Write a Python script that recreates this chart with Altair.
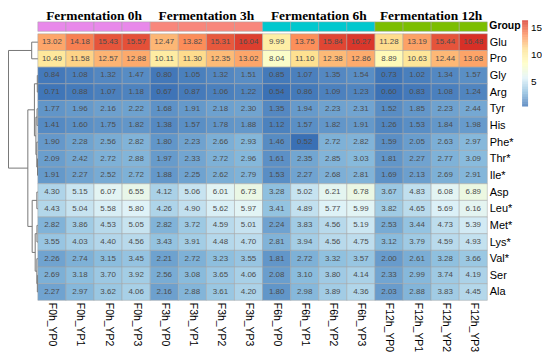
import altair as alt
import numpy as np
import pandas as pd

columns = ["F0h_YP0", "F0h_YP1", "F0h_YP2", "F0h_YP3",
           "F3h_YP0", "F3h_YP1", "F3h_YP2", "F3h_YP3",
           "F6h_YP0", "F6h_YP1", "F6h_YP2", "F6h_YP3",
           "F12h_YP0", "F12h_YP1", "F12h_YP2", "F12h_YP3"]
groups = ["Fermentation 0h", "Fermentation 3h", "Fermentation 6h", "Fermentation 12h"]
group_colors = ["#E889EA", "#F8877C", "#00C8CE", "#7CBE00"]
rows = ["Glu", "Pro", "Gly", "Arg", "Tyr", "His", "Phe*", "Thr*", "Ile*",
        "Asp", "Leu*", "Met*", "Lys*", "Val*", "Ser", "Ala"]

glu = [13.02, 14.18, 15.43, 15.57, 12.47, 13.82, 15.31, 16.04, 9.99, 13.75, 15.84, 16.27, 11.28, 13.19, 15.44, 16.48]
pro = [10.49, 11.58, 12.57, 12.88, 10.11, 11.30, 12.35, 13.02, 8.04, 11.10, 12.38, 12.86, 8.89, 10.63, 12.44, 13.08]
gly = [0.84, 1.08, 1.32, 1.47, 0.80, 1.05, 1.32, 1.51, 0.85, 1.07, 1.35, 1.54, 0.73, 1.02, 1.34, 1.57]
arg = [0.71, 0.88, 1.07, 1.18, 0.67, 0.87, 1.06, 1.22, 0.54, 0.86, 1.09, 1.23, 0.60, 0.83, 1.08, 1.24]
tyr = [1.77, 1.96, 2.16, 2.22, 1.68, 1.91, 2.18, 2.30, 1.35, 1.94, 2.23, 2.31, 1.52, 1.85, 2.23, 2.44]
his = [1.41, 1.60, 1.75, 1.82, 1.38, 1.57, 1.78, 1.88, 1.12, 1.57, 1.82, 1.91, 1.26, 1.53, 1.84, 1.98]
phe = [1.90, 2.28, 2.56, 2.82, 1.80, 2.23, 2.66, 2.93, 1.46, 0.52, 2.72, 2.82, 1.59, 2.05, 2.63, 2.97]
thr = [2.09, 2.42, 2.72, 2.88, 1.97, 2.33, 2.72, 2.96, 1.61, 2.35, 2.85, 3.03, 1.81, 2.27, 2.77, 3.09]
ile = [1.91, 2.27, 2.52, 2.72, 1.88, 2.25, 2.62, 2.79, 1.53, 2.27, 2.68, 2.81, 1.69, 2.13, 2.69, 2.91]
asp = [4.30, 5.15, 6.07, 6.55, 4.12, 5.06, 6.01, 6.73, 3.28, 5.02, 6.21, 6.78, 3.67, 4.83, 6.08, 6.89]
leu = [4.43, 5.04, 5.58, 5.80, 4.26, 4.90, 5.62, 5.97, 3.41, 4.89, 5.77, 5.99, 3.82, 4.65, 5.69, 6.16]
met = [2.82, 3.86, 4.53, 5.05, 2.82, 3.72, 4.59, 5.01, 2.24, 3.83, 4.56, 5.19, 2.53, 3.44, 4.73, 5.39]
lys = [3.55, 4.03, 4.40, 4.56, 3.43, 3.91, 4.48, 4.70, 2.81, 3.94, 4.56, 4.75, 3.12, 3.79, 4.59, 4.93]
val = [2.26, 2.74, 3.15, 3.45, 2.21, 2.72, 3.23, 3.55, 1.81, 2.72, 3.32, 3.57, 2.00, 2.61, 3.28, 3.66]
ser = [2.69, 3.18, 3.70, 3.92, 2.56, 3.08, 3.65, 4.06, 2.08, 3.10, 3.80, 4.14, 2.33, 2.99, 3.74, 4.19]
ala = [2.27, 2.97, 3.62, 4.06, 2.16, 2.88, 3.61, 4.20, 1.80, 2.98, 3.89, 4.36, 2.03, 2.88, 3.83, 4.45]

legend_ticks = [5, 10, 15]
palette = ["#3A70B5", "#8CBEDE", "#E0F3F8", "#FFFFBF", "#FEE090", "#FC8D59", "#D73027"]

vals = np.array([glu, pro, gly, arg, tyr, his, phe, thr, ile, asp, leu, met, lys, val, ser, ala])
nr, nc = vals.shape
vmin, vmax = float(vals.min()), float(vals.max())
stops = list(np.linspace(vmin, vmax, len(palette)))

W, H = 452, 268
CW, RH = W / nc, H / nr  # pixel size of one column / one row
SANS = "Liberation Sans"

# cells
recs = []
for i in range(nr):
    for j in range(nc):
        recs.append({"row": rows[i], "col": columns[j], "ri": i, "ri2": i + 1,
                     "ci": j, "ci2": j + 1, "xc": j + 0.5, "yc": i + 0.5,
                     "v": float(vals[i, j])})
cells = pd.DataFrame(recs)

# group annotation bar
gbar = pd.DataFrame([{"ci": j, "ci2": j + 1, "group": groups[j // 4]} for j in range(nc)])
gtitle = pd.DataFrame([{"xc": 4 * g + 2, "group": groups[g]} for g in range(len(groups))])
glabel = pd.DataFrame([{"xc": nc, "t": "Group"}])

# row dendrogram: complete linkage (euclidean), merging neighbours in display order
clusters = [{"m": [i], "pos": i + 0.5, "h": 0.0} for i in range(nr)]
segs = []
def cdist(a, b):
    return max(float(np.linalg.norm(vals[p] - vals[q])) for p in a for q in b)
while len(clusters) > 1:
    ds = [cdist(clusters[k]["m"], clusters[k + 1]["m"]) for k in range(len(clusters) - 1)]
    k = int(np.argmin(ds))
    a, b = clusters[k], clusters[k + 1]
    h = max(ds[k], a["h"], b["h"])
    segs.append((a["h"], h, a["pos"], a["pos"]))
    segs.append((b["h"], h, b["pos"], b["pos"]))
    segs.append((h, h, a["pos"], b["pos"]))
    clusters[k:k + 2] = [{"m": a["m"] + b["m"], "pos": (a["pos"] + b["pos"]) / 2, "h": h}]
hroot = clusters[0]["h"]
D = 29.5 / CW  # dendrogram width in column units
dend = pd.DataFrame([{"ci": -s[0] / hroot * D, "ci2": -s[1] / hroot * D, "ri": s[2], "ri2": s[3]} for s in segs])

# colour bar (drawn with the same colour scale), placed right of the row labels
cb_top, cb_len = -13.5 / RH, 86.5 / RH          # in row units
cb_x, cb_w = (W + 35) / CW, 6 / CW               # in column units
def cb_y(v):
    return cb_top + (vmax - v) / (vmax - vmin) * cb_len
nstep = 120
edges = np.linspace(vmin, vmax, nstep + 1)
cbar = pd.DataFrame([{"v": float((edges[k] + edges[k + 1]) / 2),
                      "ri": cb_y(edges[k + 1]), "ri2": cb_y(edges[k]),
                      "ci": cb_x, "ci2": cb_x + cb_w} for k in range(nstep)])
cblab = pd.DataFrame([{"t": str(t), "yc": cb_y(t), "xc": cb_x + cb_w} for t in legend_ticks])

xs = alt.Scale(domain=[0, nc], nice=False, zero=False)
ys = alt.Scale(domain=[0, nr], nice=False, zero=False, reverse=True)
cs = alt.Scale(domain=stops, range=palette, interpolate="rgb")

col_expr = "[" + ",".join("'%s'" % c for c in columns) + "][floor(datum.value)]"
row_expr = "[" + ",".join("'%s'" % r for r in rows) + "][floor(datum.value)]"

heat = alt.Chart(cells).mark_rect(stroke="#a3a3a3", strokeWidth=0.5).encode(
    x=alt.X("ci:Q", scale=xs, title=None,
            axis=alt.Axis(values=[j + 0.5 for j in range(nc)], tickCount=nc, labelExpr=col_expr,
                          labelAngle=90, labelAlign="left", labelBaseline="middle",
                          labelPadding=2, labelFontSize=10.5, labelFont=SANS, labelColor="black",
                          domain=False, ticks=False, grid=False, labelOverlap=False, labelFlush=False)),
    x2=alt.X2("ci2:Q"),
    y=alt.Y("ri:Q", scale=ys, title=None,
            axis=alt.Axis(orient="right", values=[i + 0.5 for i in range(nr)], tickCount=nr,
                          labelExpr=row_expr,
                          labelAlign="left", labelBaseline="middle", labelPadding=2,
                          labelFontSize=11, labelFont=SANS, labelColor="black",
                          domain=False, ticks=False, grid=False, labelOverlap=False, labelFlush=False)),
    y2=alt.Y2("ri2:Q"),
    color=alt.Color("v:Q", scale=cs, legend=None),
)

nums = alt.Chart(cells).mark_text(fontSize=8, font=SANS, color="#4D4D4D").encode(
    x=alt.X("xc:Q", scale=xs, title=None),
    y=alt.Y("yc:Q", scale=ys, title=None),
    text=alt.Text("v:Q", format=".2f"),
)

bar = alt.Chart(gbar).mark_rect(stroke="#a3a3a3", strokeWidth=0.5).encode(
    x=alt.X("ci:Q", scale=xs, title=None),
    x2=alt.X2("ci2:Q"),
    y=alt.value(-12),
    y2=alt.value(-2.5),
    color=alt.Color("group:N", scale=alt.Scale(domain=groups, range=group_colors), legend=None),
)

titles = alt.Chart(gtitle).mark_text(font="Liberation Serif", fontWeight="bold", fontSize=13.5,
                                     baseline="alphabetic", color="black").encode(
    x=alt.X("xc:Q", scale=xs, title=None),
    y=alt.value(-13.5),
    text="group:N",
)

glab = alt.Chart(glabel).mark_text(font=SANS, fontWeight="bold", fontSize=10.5, align="left",
                                   baseline="middle", dx=2, color="black").encode(
    x=alt.X("xc:Q", scale=xs, title=None),
    y=alt.value(-7.5),
    text="t:N",
)

tree = alt.Chart(dend).mark_rule(color="#777777", strokeWidth=1).encode(
    x=alt.X("ci:Q", scale=xs, title=None),
    x2=alt.X2("ci2:Q"),
    y=alt.Y("ri:Q", scale=ys, title=None),
    y2=alt.Y2("ri2:Q"),
)

cbar_l = alt.Chart(cbar).mark_rect(strokeWidth=0).encode(
    x=alt.X("ci:Q", scale=xs, title=None),
    x2=alt.X2("ci2:Q"),
    y=alt.Y("ri:Q", scale=ys, title=None),
    y2=alt.Y2("ri2:Q"),
    color=alt.Color("v:Q", scale=cs, legend=None),
)

cblab_l = alt.Chart(cblab).mark_text(font=SANS, fontSize=10, align="left", baseline="middle",
                                     dx=3, color="black").encode(
    x=alt.X("xc:Q", scale=xs, title=None),
    y=alt.Y("yc:Q", scale=ys, title=None),
    text="t:N",
)

chart = alt.layer(heat, nums, bar, titles, glab, tree, cbar_l, cblab_l).resolve_scale(
    color="independent"
).properties(
    width=W, height=H,
    padding={"left": 30, "top": 25, "right": 55, "bottom": 51},
    autosize=alt.AutoSizeParams(type="none"),
    background="white",
).configure_view(strokeWidth=0)

chart.save("out.html", embed_options={"renderer": "svg", "actions": False})
